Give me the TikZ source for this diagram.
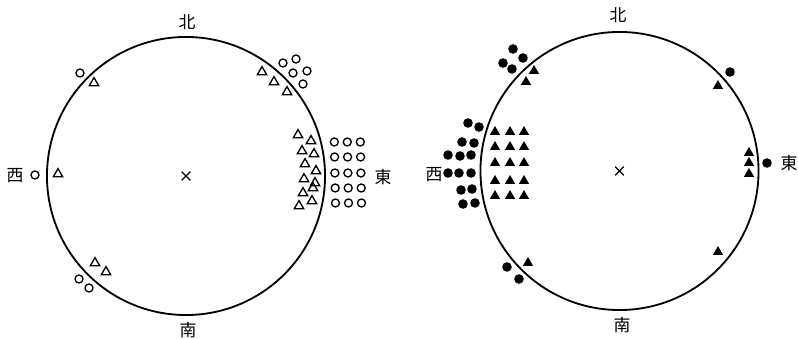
\documentclass[tikz,border=0pt]{standalone}
\usepackage{fontspec}
\newfontfamily\cjk{Noto Sans CJK JP}
\usetikzlibrary{shapes.geometric,shapes.misc}

\begin{document}
\begin{tikzpicture}[
    x=0.025cm,
    y=-0.025cm,
    ring/.style={
        draw,
        circle,
        line width=1.3pt,
        inner sep=0pt,
        minimum size=6.95cm
    },
    dir/.style={font=\cjk\fontsize{12}{14}\selectfont, inner sep=0pt},
    centre/.style={draw, cross out, line width=0.8pt, inner sep=0pt, minimum size=0.19cm},
    ocirc/.style={draw, circle, line width=0.95pt, inner sep=0pt, minimum size=0.2cm},
    otri/.style={draw, regular polygon, regular polygon sides=3, line width=0.95pt,
                 inner sep=0pt, minimum size=0.27cm},
    fcirc/.style={fill, circle, inner sep=0pt, minimum size=0.24cm},
    ftri/.style={fill, regular polygon, regular polygon sides=3,
                 inner sep=0pt, minimum size=0.3cm}
]
\useasboundingbox (0,0) rectangle (798,339);

% ============================================================
% LINKER KREIS (offene Zeichen)
% ============================================================
\node[ring] (ringL) at (186,176) {};
\node[centre] (midL) at (ringL.center) {};

\node[dir] (nL) at (187,22) {北};
\node[dir] (sL) at (188,330) {南};
\node[dir] (wL) at (15,176) {西};
\node[dir] (eL) at (383,177) {東};

% Dreiecke innen
\foreach \x/\y [count=\i] in {94/83, 262/72, 274/82, 287/92,
        298/135, 311/141, 302/151, 314/154, 305/164, 316/171,
        304/179, 315/183, 303/193, 313/188, 299/206, 312/201,
        58/174, 95/263, 106/272}
    \node[otri] (tL\i) at (\x,\y) {};

% Kreise aussen
\foreach \x/\y [count=\i] in {80/73, 283/63, 296/59, 293/73, 307/71, 303/84,
        35/175, 79/279, 89/288}
    \node[ocirc] (cL\i) at (\x,\y) {};
\foreach \r/\y in {1/142, 2/157, 3/173, 4/188, 5/203}
    \foreach \x [count=\k] in {334, 347, 360}
        \node[ocirc] (cE\r-\k) at (\x+0.3*\r,\y) {};

% ============================================================
% RECHTER KREIS (volle Zeichen)
% ============================================================
\node[ring] (ringR) at (619.5,171) {};
\node[centre] (midR) at (ringR.center) {};

\node[dir] (nR) at (618,15) {北};
\node[dir] (sR) at (622,325) {南};
\node[dir] (wR) at (434,175) {西};
\node[dir] (eR) at (789,163) {東};

% Dreiecke innen
\foreach \x/\y [count=\i] in {534/71, 526/82, 718/86,
        749/153, 749/163, 749/174, 718/252, 528/263}
    \node[ftri] (tR\i) at (\x,\y) {};
\foreach \y [count=\r] in {132, 147, 163, 181, 196}
    \foreach \x [count=\k] in {495, 510, 524}
        \node[ftri] (tW\r-\k) at (\x,\y) {};

% Kreise aussen
\foreach \x/\y [count=\i] in {513/49, 523/58, 503/63, 512/69,
        730/72, 767/163, 507/267, 519/279,
        468/123, 479/127, 462/142, 474/143,
        448/155, 460/156, 471/155, 448/173, 459/173, 471/173,
        461/190, 472/189, 463/204, 475/203}
    \node[fcirc] (cR\i) at (\x,\y) {};

\end{tikzpicture}
\end{document}
